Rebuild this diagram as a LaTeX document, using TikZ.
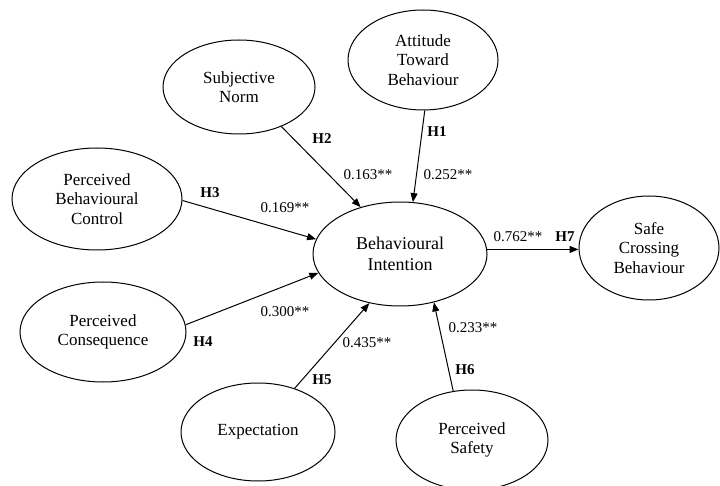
\documentclass[tikz,border=0pt]{standalone}
\usepackage{fontspec}
\setmainfont{Liberation Serif}
\usetikzlibrary{shapes.geometric,arrows.meta}
\begin{document}
\begin{tikzpicture}[x=1pt,y=-1pt,
 lat/.style={ellipse,draw,line width=1pt,inner sep=0pt,align=center,font=\fontsize{17}{19.5}\selectfont},
 pathline/.style={draw,line width=1pt,-{Triangle[length=9pt,width=7pt]}},
 hyp/.style={font=\fontsize{15}{18}\selectfont\bfseries,inner sep=0pt},
 coef/.style={font=\fontsize{15}{18}\selectfont,inner sep=0pt}]
\useasboundingbox (0,0) rectangle (720,486);
\node[lat,minimum width=152pt,minimum height=94pt] (sn) at (239,87) {Subjective\\Norm};
\node[lat,minimum width=150pt,minimum height=100pt] (atb) at (423,60) {Attitude\\Toward\\Behaviour};
\node[lat,minimum width=170pt,minimum height=102pt] (pbc) at (97,199) {Perceived\\Behavioural\\Control};
\node[lat,minimum width=166pt,minimum height=100pt] (pc) at (103,332) {Perceived\\Consequence};
\node[lat,minimum width=174pt,minimum height=104pt,font=\fontsize{18}{21}\selectfont] (bi) at (400,254) {Behavioural\\Intention};
\node[lat,minimum width=140pt,minimum height=104pt] (scb) at (649,248) {Safe\\Crossing\\Behaviour};
\node[lat,minimum width=154pt,minimum height=98pt] (exp) at (258,432) {Expectation};
\node[lat,minimum width=152pt,minimum height=100pt] (ps) at (472,440) {Perceived\\Safety};

\draw[pathline] (sn.-43) -- (bi.130);
\draw[pathline] (atb.-88) -- (bi.76);
\draw[pathline] (pbc.-1) -- (bi.170);
\draw[pathline] (pc.5) -- (bi.193);
\draw[pathline] (exp.50) -- (bi.238);
\draw[pathline] (ps.111) -- (bi.-55);
\draw[pathline] (bi.3) -- (bi.3 -| scb.west);

\node[hyp] (h2) at (322,139) {H2};
\node[coef] (c2) at (368,175) {0.163**};
\node[hyp] (h1) at (437,132) {H1};
\node[coef] (c1) at (448,175) {0.252**};
\node[hyp] (h3) at (210,193) {H3};
\node[coef] (c3) at (285,208) {0.169**};
\node[coef] (c4) at (285,312) {0.300**};
\node[hyp] (h4) at (203,342) {H4};
\node[hyp] (h5) at (322,380) {H5};
\node[coef] (c5) at (367,343) {0.435**};
\node[hyp] (h6) at (465,370) {H6};
\node[coef] (c6) at (473,328) {0.233**};
\node[coef] (c7) at (518,237) {0.762**};
\node[hyp] (h7) at (565,237) {H7};
\end{tikzpicture}
\end{document}
